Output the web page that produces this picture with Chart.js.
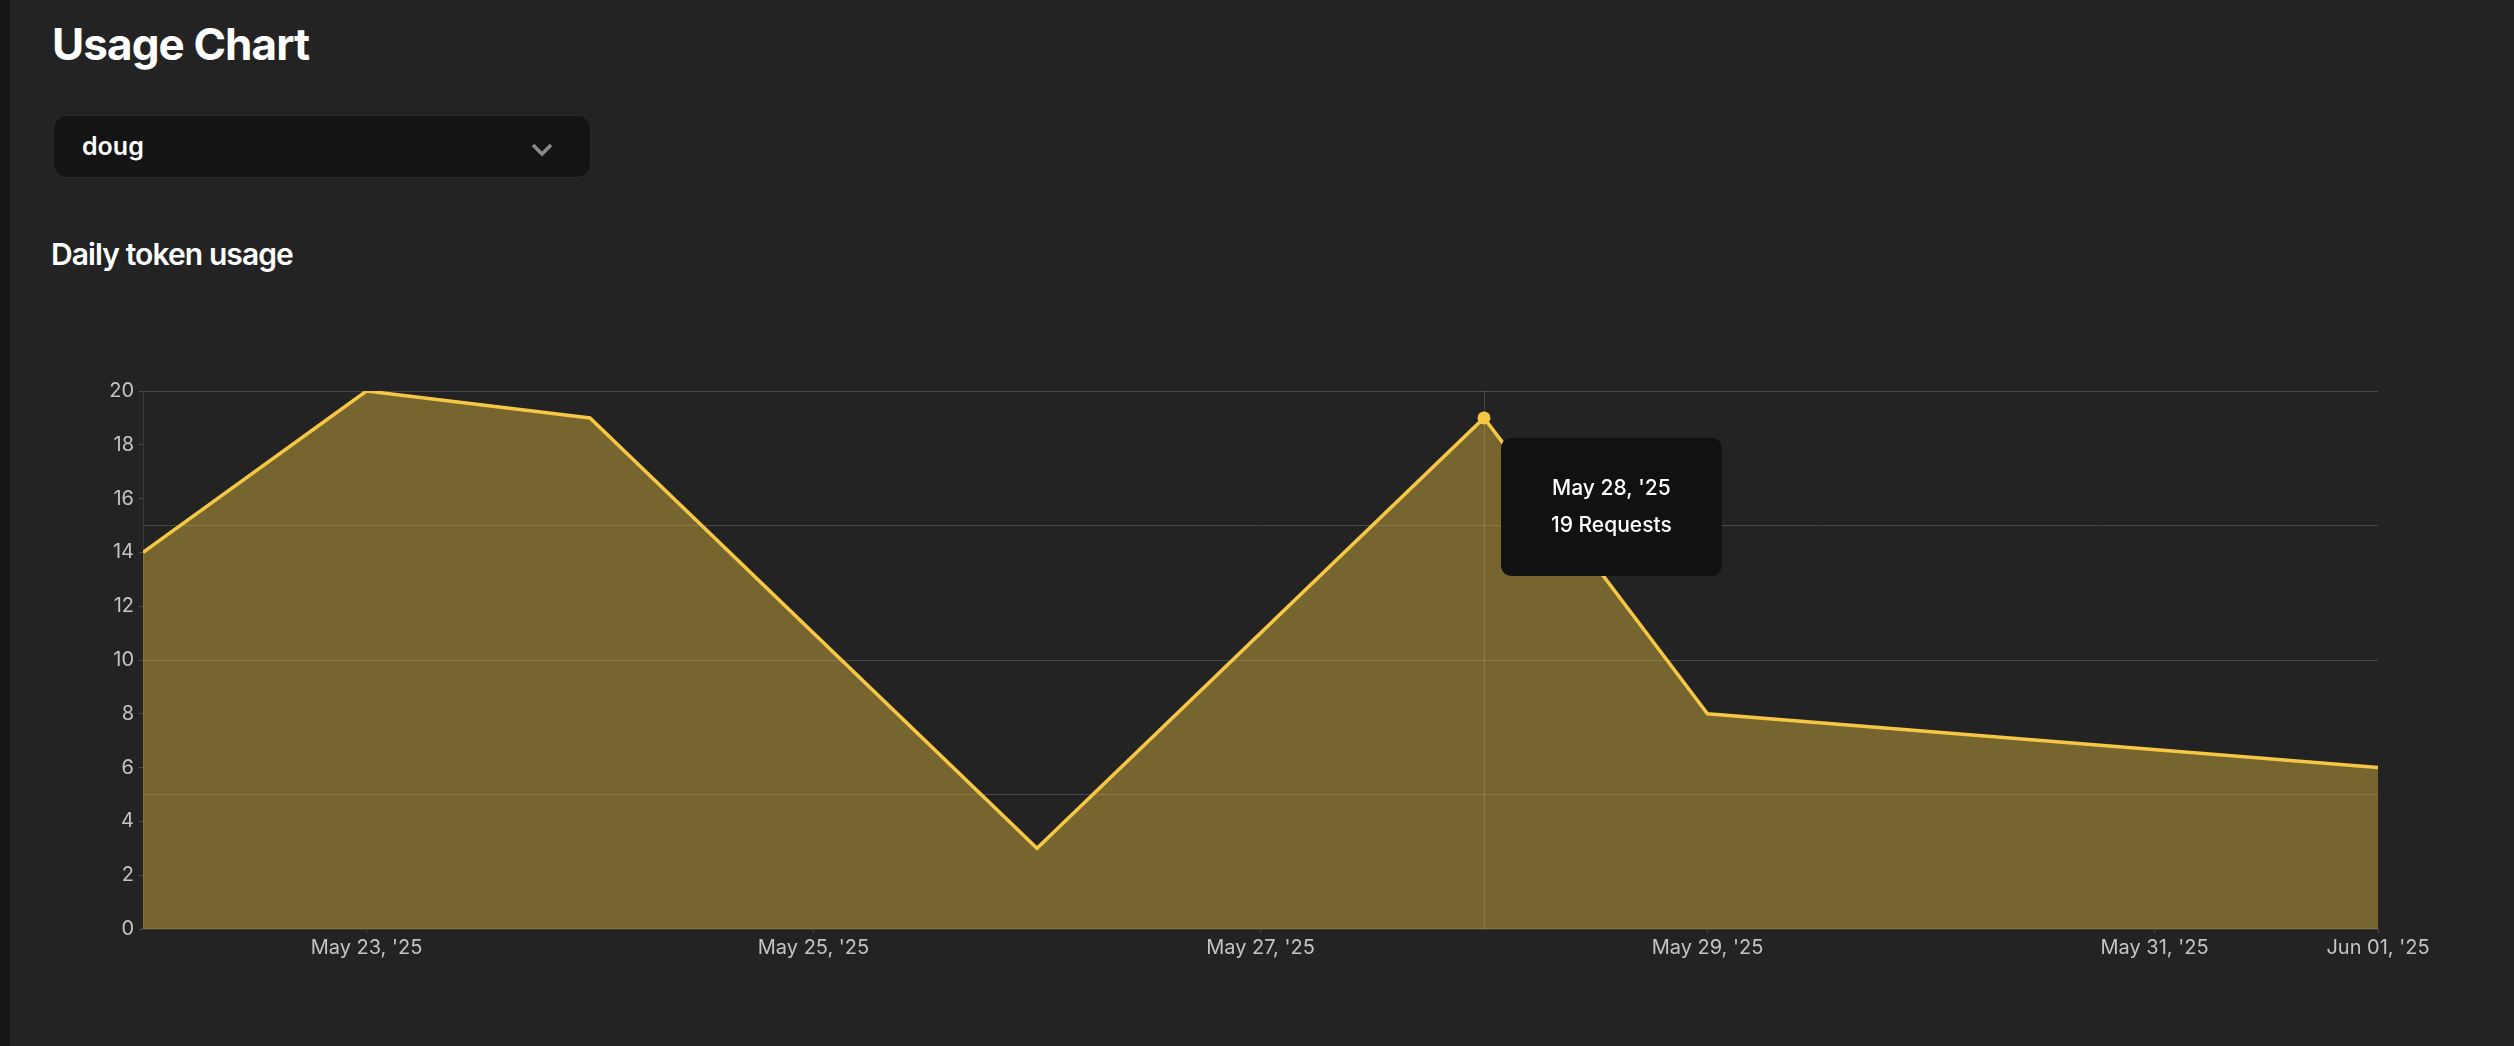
<!DOCTYPE html>
<html>
<head>
<meta charset="utf-8">
<title>Usage Chart</title>
<script src="https://cdn.jsdelivr.net/npm/chart.js@4.4.1/dist/chart.umd.min.js"></script>
<style>
    html, body { margin: 0; padding: 0; }
    body {
        width: 2514px; height: 1046px; overflow: hidden; position: relative;
        background: #232323; color: #fff; font-family: Inter, 'Noto Sans', sans-serif;
    }
    .strip { position: absolute; left: 0; top: 0; width: 10px; height: 100%; background: #151515; }
    h1 {
        position: absolute; left: 52px; top: 22px; margin: 0;
        font-size: 44px; line-height: 1; font-weight: 700; letter-spacing: -0.9px;
    }
    .select {
        position: absolute; left: 53px; top: 115px; width: 536px; height: 61px;
        background: #141414; border: 1px solid #2a2a2a; border-radius: 13px;
        display: flex; align-items: center; box-sizing: content-box;
    }
    .select span { margin-left: 28px; font-size: 25px; line-height: 1; font-weight: 600; }
    .select svg { position: absolute; left: 477px; top: 27px; }
    h2 {
        position: absolute; left: 51px; top: 239px; margin: 0;
        font-size: 30px; line-height: 1; font-weight: 600; letter-spacing: -0.9px;
    }
    .chart-box { position: absolute; left: 53px; top: 370px; width: 2395px; height: 599px; }
</style>
</head>
<body>
<div class="strip"></div>
<h1>Usage Chart</h1>
<div class="select">
    <span>doug</span>
    <svg width="22" height="14" viewBox="0 0 22 14"><polyline points="2,2 11,11 20,2" fill="none" stroke="#8a8a8a" stroke-width="3.5"/></svg>
</div>
<h2>Daily token usage</h2>
<div class="chart-box"><canvas id="usage-chart"></canvas></div>

<script>
// data
const dates = ['2025-05-22', '2025-05-23', '2025-05-24', '2025-05-26', '2025-05-28', '2025-05-29', '2025-06-01'];
const requests = [14, 20, 19, 3, 19, 8, 6];
const tickDates = ['2025-05-23', '2025-05-25', '2025-05-27', '2025-05-29', '2025-05-31', '2025-06-01'];
const axisStart = '2025-05-22';
const axisEnd = '2025-06-01';
const activeDate = '2025-05-28';

const MONTHS = ['Jan', 'Feb', 'Mar', 'Apr', 'May', 'Jun', 'Jul', 'Aug', 'Sep', 'Oct', 'Nov', 'Dec'];
const dayNum = (d) => Date.parse(d + 'T00:00:00Z') / 86400000;
const fmtDate = (n) => {
    let d = new Date(Math.round(n) * 86400000);
    let dd = String(d.getUTCDate()).padStart(2, '0');
    return `${MONTHS[d.getUTCMonth()]} ${dd}, '${String(d.getUTCFullYear()).slice(2)}`;
}

const YELLOW = '#f6c744';

Chart.defaults.font.family = 'Inter';
Chart.Tooltip.positioners.besidePoint = function(items) {
    if(!items.length) return false;
    let el = items[0].element;
    return { x: el.x, y: el.y + 89 };
}

// vertical hover line
const crosshair = {
    id: 'crosshair',
    beforeDatasetsDraw(chart) {
        let active = chart.getActiveElements();
        if(!active.length) return;
        let x = active[0].element.x, area = chart.chartArea, ctx = chart.ctx;
        ctx.save();
        ctx.strokeStyle = 'rgba(255,255,255,0.17)';
        ctx.lineWidth = 1;
        ctx.beginPath();
        ctx.moveTo(Math.round(x) + 0.5, area.top);
        ctx.lineTo(Math.round(x) + 0.5, area.bottom);
        ctx.stroke();
        ctx.restore();
    }
}

const ctx = document.getElementById('usage-chart');
const chart = new Chart(ctx, {
    type: 'line',
    data: {
        datasets: [{
            label: 'Requests',
            data: dates.map((d, i) => ({ x: dayNum(d), y: requests[i] })),
            borderColor: YELLOW,
            borderWidth: 3.5,
            backgroundColor: 'rgba(246,199,68,0.4)',
            fill: 'origin',
            tension: 0,
            pointRadius: 0,
            pointHoverRadius: 6.5,
            pointHoverBackgroundColor: YELLOW,
            pointHoverBorderColor: YELLOW,
            pointHoverBorderWidth: 0
        }]
    },
    options: {
        responsive: true,
        maintainAspectRatio: false,
        animation: false,
        events: [],
        layout: { padding: { top: 21, right: 70, left: 0, bottom: 0 } },
        plugins: {
            legend: { display: false },
            tooltip: {
                position: 'besidePoint',
                xAlign: 'left',
                yAlign: 'center',
                caretSize: 0,
                caretPadding: 17,
                backgroundColor: '#111111',
                titleColor: '#ffffff',
                bodyColor: '#ffffff',
                titleFont: { size: 21, weight: 500 },
                bodyFont: { size: 21, weight: 500 },
                titleAlign: 'center',
                bodyAlign: 'center',
                titleMarginBottom: 12,
                padding: { x: 50, y: 38 },
                cornerRadius: 12,
                displayColors: false,
                callbacks: {
                    title: (items) => fmtDate(items[0].parsed.x),
                    label: (item) => `${item.parsed.y} Requests`
                }
            }
        },
        scales: {
            x: {
                type: 'linear',
                min: dayNum(axisStart),
                max: dayNum(axisEnd),
                afterBuildTicks: (scale) => {
                    scale.ticks = tickDates.map((d) => ({ value: dayNum(d) }));
                },
                afterFit: (scale) => { scale.height = 40; },
                grid: { drawOnChartArea: false, tickLength: 4, color: '#4a4a4a' },
                border: { display: true, color: '#3a3a3a', width: 2 },
                ticks: {
                    color: '#c4c4c4',
                    font: { size: 20 },
                    padding: 3,
                    maxRotation: 0,
                    autoSkip: false,
                    callback: (v) => fmtDate(v)
                }
            },
            y: {
                min: 0,
                max: 20,
                afterFit: (scale) => { scale.width = 90; },
                grid: { drawOnChartArea: false, tickLength: 4, color: '#4a4a4a' },
                border: { display: true, color: '#383838', width: 1 },
                ticks: { stepSize: 2, color: '#c4c4c4', font: { size: 20 }, padding: 5 }
            },
            yGrid: {
                position: 'right',
                min: 0,
                max: 20,
                afterFit: (scale) => { scale.width = 0; },
                ticks: { display: false, stepSize: 5 },
                border: { display: false },
                grid: {
                    drawTicks: false,
                    color: (c) => c.tick.value === 0 ? 'rgba(0,0,0,0)' : 'rgba(255,255,255,0.17)'
                }
            }
        }
    },
    plugins: [crosshair]
});

const idx = dates.indexOf(activeDate);
const pt = chart.getDatasetMeta(0).data[idx];
chart.setActiveElements([{ datasetIndex: 0, index: idx }]);
chart.tooltip.setActiveElements([{ datasetIndex: 0, index: idx }], { x: pt.x, y: pt.y });
chart.update();
</script>
</body>
</html>
